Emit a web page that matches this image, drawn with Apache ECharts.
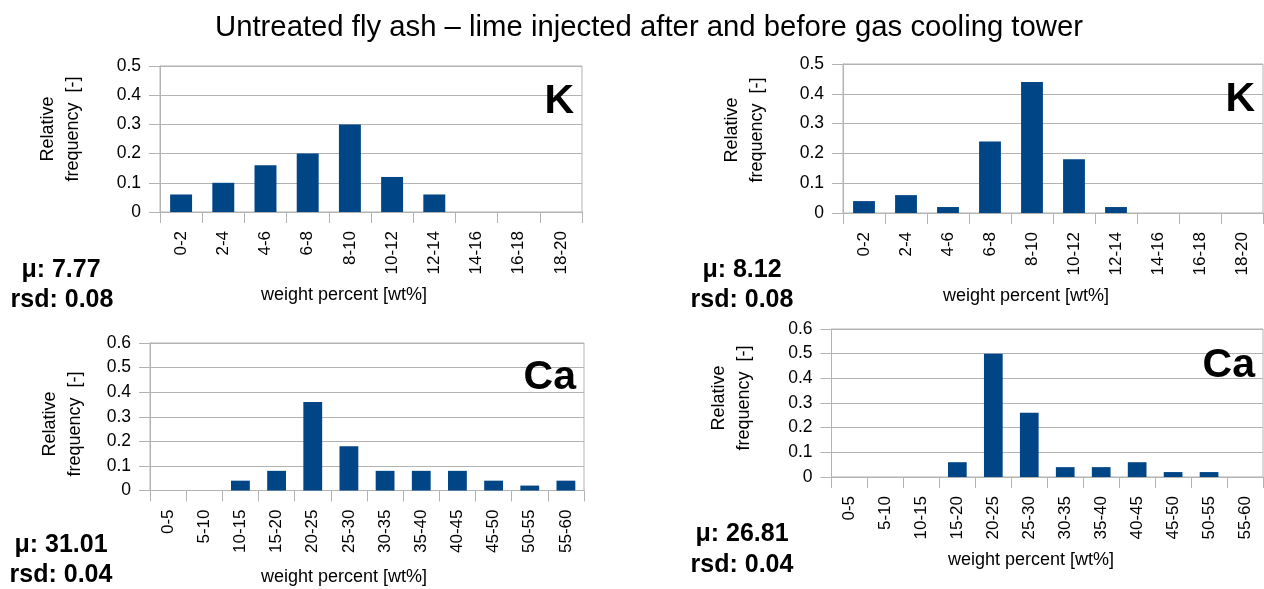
<!DOCTYPE html>
<html>
<head>
<meta charset="utf-8">
<title>Untreated fly ash – lime injected after and before gas cooling tower</title>
<script src="https://cdn.jsdelivr.net/npm/echarts@6/dist/echarts.min.js"></script>
<style>
  html, body { margin: 0; padding: 0; background: #fff; }
  #chart { width: 1264px; height: 589px; }
</style>
</head>
<body>
<div id="chart"></div>
<script>
// Class labels (weight percent bins)
const kBins = ['0-2', '2-4', '4-6', '6-8', '8-10', '10-12', '12-14', '14-16', '16-18', '18-20'];
const caBins = ['0-5', '5-10', '10-15', '15-20', '20-25', '25-30', '30-35', '35-40', '40-45', '45-50', '50-55', '55-60'];

// Relative frequencies per bin
const kAfter = [0.06, 0.10, 0.16, 0.20, 0.30, 0.12, 0.06, 0, 0, 0];
const kBefore = [0.04, 0.06, 0.02, 0.24, 0.44, 0.18, 0.02, 0, 0, 0];
const caAfter = [0, 0, 0.04, 0.08, 0.36, 0.18, 0.08, 0.08, 0.08, 0.04, 0.02, 0.04];
const caBefore = [0, 0, 0, 0.06, 0.50, 0.26, 0.04, 0.04, 0.06, 0.02, 0.02, 0];

// Summary statistics and element names per panel
const elements = ['K', 'K', 'Ca', 'Ca'];
const means = ['7.77', '8.12', '31.01', '26.81'];
const rsds = ['0.08', '0.08', '0.04', '0.04'];
const yMaxes = [0.5, 0.5, 0.6, 0.6];

const titleText = 'Untreated fly ash – lime injected after and before gas cooling tower';
const yName = 'Relative\nfrequency  [-]';
const xName = 'weight percent [wt%]';

const FONT = '"Liberation Sans", Arial, Helvetica, sans-serif';
const BAR = '#004586';
const GRID = '#b3b3b3';

// Panel geometry: plot rectangle and annotation anchors
const panels = [
  { cats: kBins, vals: kAfter,   rect: [160, 66, 422, 146],   yName: [61, 129],  xName: [344, 295],  el: [574, 102], mu: [61, 270],  rsd: [62, 300] },
  { cats: kBins, vals: kBefore,  rect: [843, 64, 420, 149],   yName: [745, 130], xName: [1026, 296], el: [1255, 100], mu: [742, 270], rsd: [742, 300] },
  { cats: caBins, vals: caAfter, rect: [150, 343, 434, 147.5], yName: [63, 424], xName: [344, 577],  el: [576, 378], mu: [61, 545],  rsd: [61, 575] },
  { cats: caBins, vals: caBefore, rect: [831.5, 329, 431.5, 148], yName: [732, 398], xName: [1031, 560], el: [1255, 366], mu: [742, 534], rsd: [742, 565] }
];

const grid = [], xAxis = [], yAxis = [], series = [], graphic = [];

panels.forEach((p, i) => {
  grid.push({
    left: p.rect[0], top: p.rect[1], width: p.rect[2], height: p.rect[3],
    containLabel: false, outerBoundsMode: 'none',
    show: true, borderColor: GRID, borderWidth: 1
  });
  xAxis.push({
    type: 'category', gridIndex: i, data: p.cats, boundaryGap: true,
    axisLine: { show: true, lineStyle: { color: GRID, width: 1 } },
    axisTick: { show: true, length: 11, lineStyle: { color: GRID } },
    axisLabel: { rotate: 90, margin: 19, fontSize: 17, color: '#000', fontFamily: FONT, interval: 0 },
    splitLine: { show: false }
  });
  yAxis.push({
    type: 'value', gridIndex: i, min: 0, max: yMaxes[i], interval: 0.1,
    axisLine: { show: true, lineStyle: { color: GRID, width: 1 } },
    axisTick: { show: true, length: 11, lineStyle: { color: GRID } },
    axisLabel: {
      margin: 19, fontSize: 17.5, color: '#000', fontFamily: FONT,
      formatter: v => (v === 0 ? '0' : v.toFixed(1))
    },
    splitLine: { show: true, lineStyle: { color: GRID, width: 1 } }
  });
  series.push({
    type: 'bar', xAxisIndex: i, yAxisIndex: i, data: p.vals,
    barWidth: '52%', itemStyle: { color: BAR }, silent: true
  });

  // Axis titles
  graphic.push({
    type: 'text', x: p.yName[0], y: p.yName[1], rotation: Math.PI / 2,
    style: { text: yName, fill: '#000', font: '18px ' + FONT, align: 'center', verticalAlign: 'middle', lineHeight: 25 }
  });
  graphic.push({
    type: 'text', x: p.xName[0], y: p.xName[1],
    style: { text: xName, fill: '#000', font: '18px ' + FONT, align: 'center', verticalAlign: 'middle' }
  });
  // Element symbol
  graphic.push({
    type: 'text', x: p.el[0], y: p.el[1], z: 10,
    style: { text: elements[i], fill: '#000', font: 'bold 41px ' + FONT, align: 'right', verticalAlign: 'middle' }
  });
  // Mean and relative standard deviation
  graphic.push({
    type: 'text', x: p.mu[0], y: p.mu[1],
    style: { text: 'μ: ' + means[i], fill: '#000', font: 'bold 25px ' + FONT, align: 'center', verticalAlign: 'middle' }
  });
  graphic.push({
    type: 'text', x: p.rsd[0], y: p.rsd[1],
    style: { text: 'rsd: ' + rsds[i], fill: '#000', font: 'bold 25px ' + FONT, align: 'center', verticalAlign: 'middle' }
  });
});

const chart = echarts.init(document.getElementById('chart'), null, { renderer: 'canvas' });
chart.setOption({
  backgroundColor: '#ffffff',
  animation: false,
  title: {
    text: titleText, left: 210, top: 8,
    textStyle: { fontSize: 29.3, fontWeight: 'normal', color: '#000', fontFamily: FONT }
  },
  grid, xAxis, yAxis, series, graphic
});
</script>
</body>
</html>
